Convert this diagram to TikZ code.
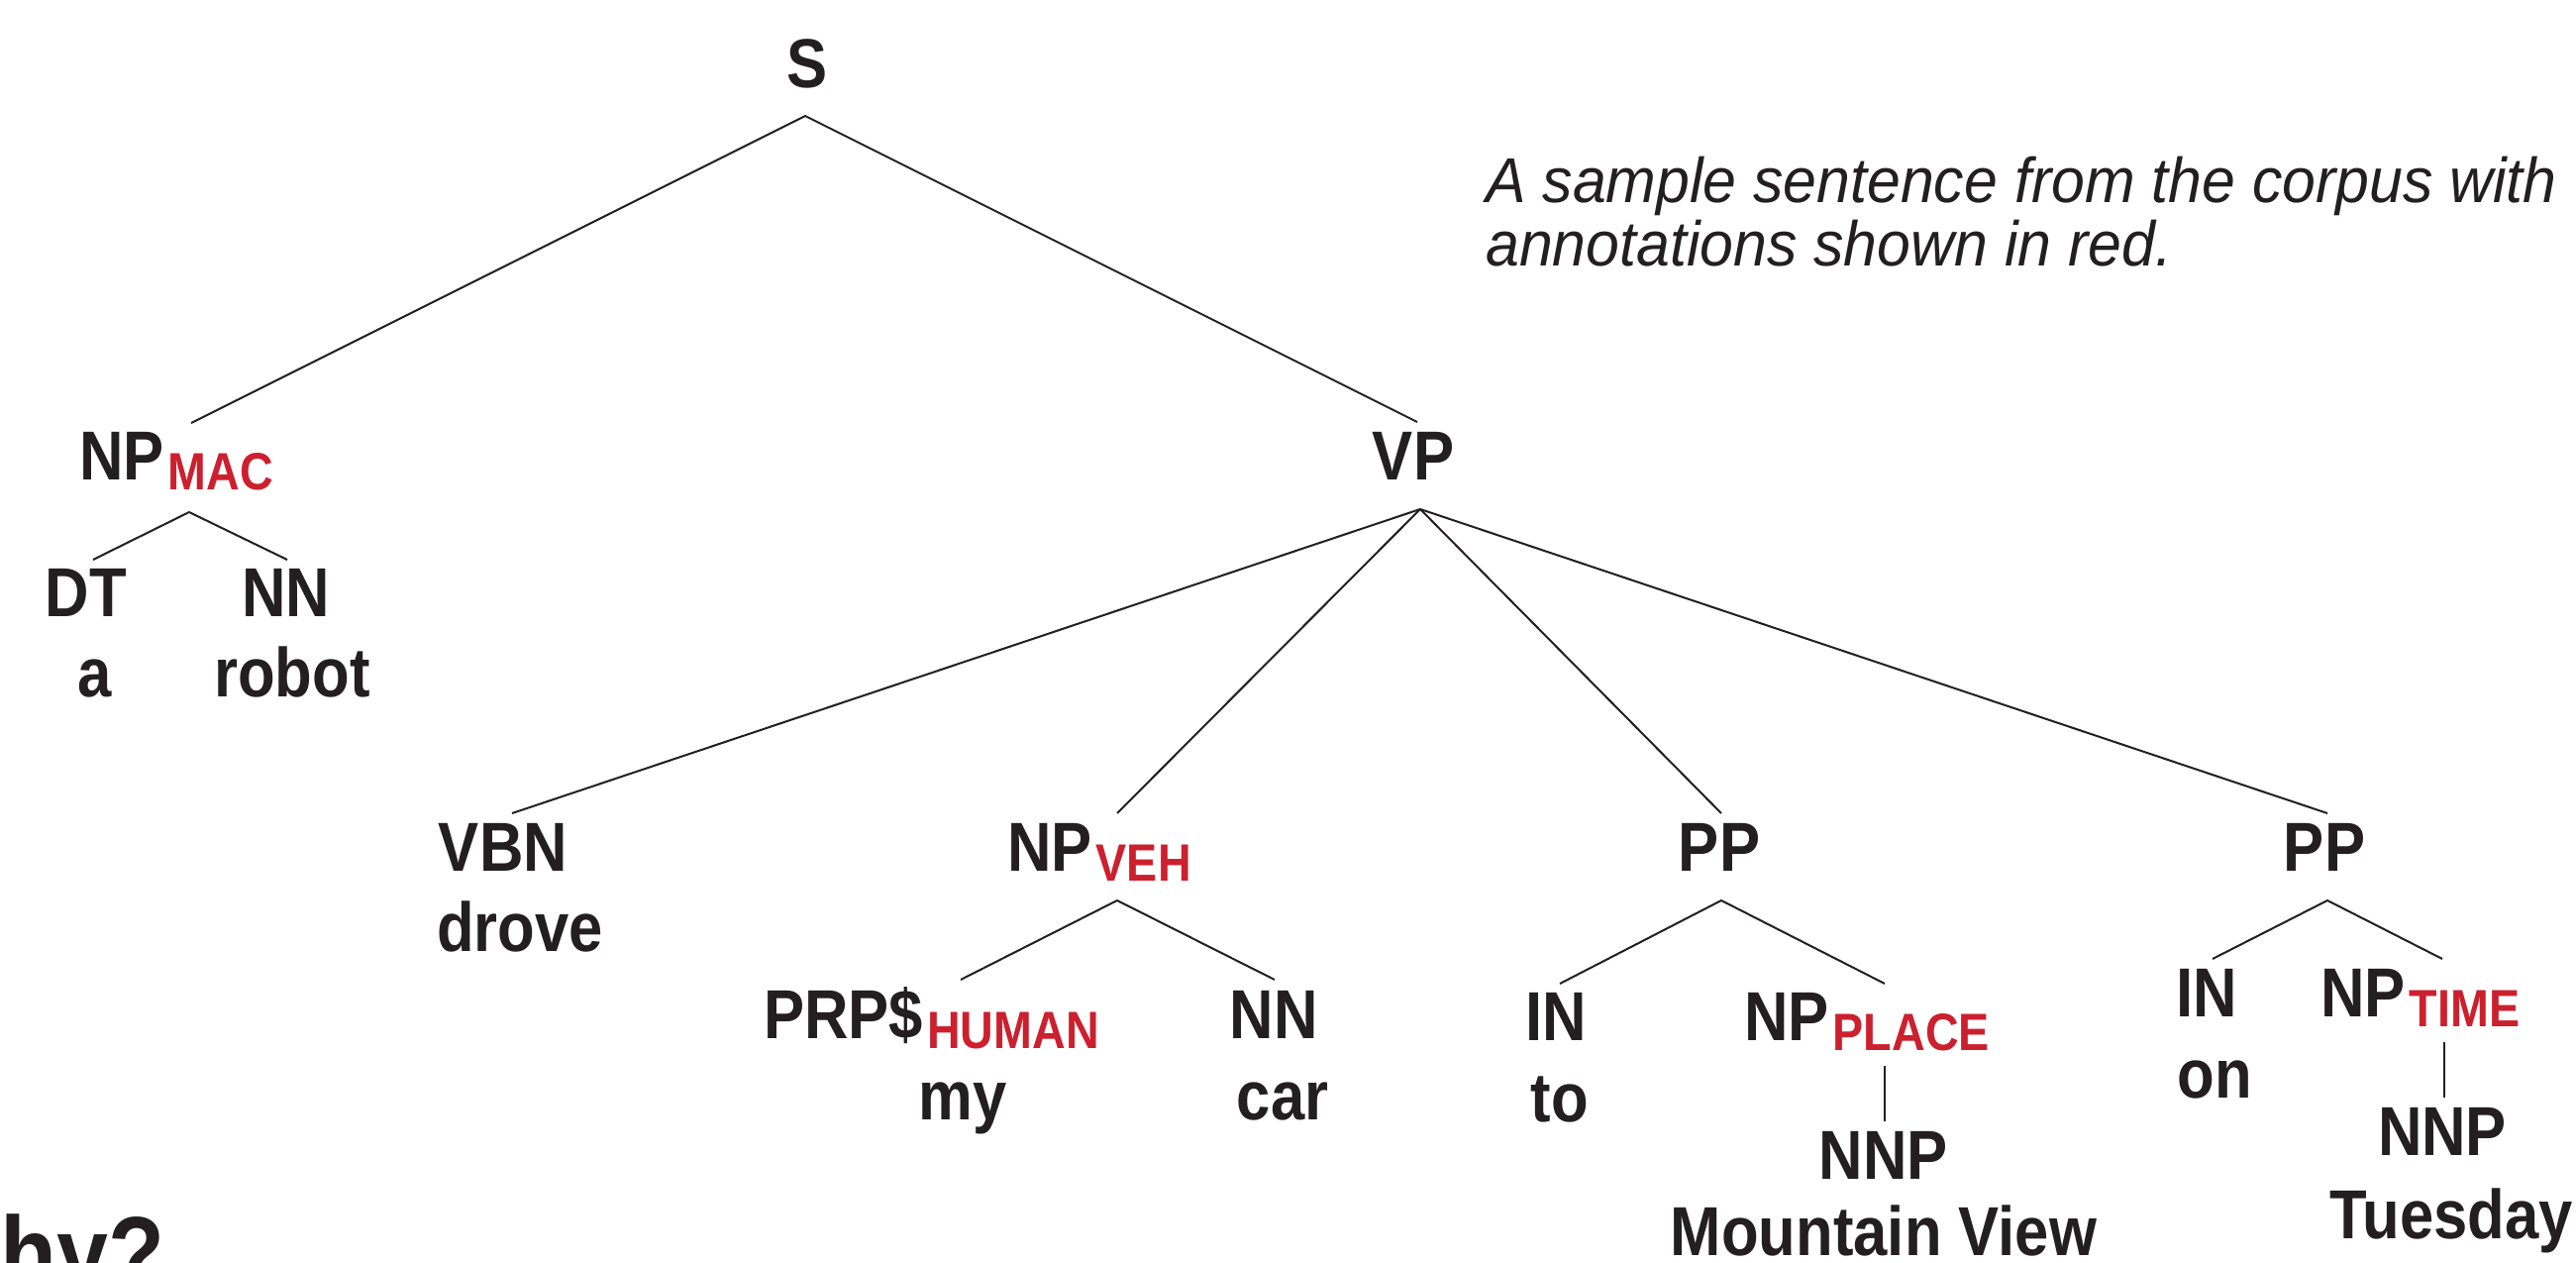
\documentclass[tikz,border=0pt]{standalone}
\usepackage{fontspec}
\setmainfont{Liberation Sans}
\newfontfamily\labfont[FakeStretch=0.88]{Liberation Sans}
\newfontfamily\capfont[FakeStretch=0.95]{Liberation Sans}
\definecolor{ink}{RGB}{35,31,32}
\definecolor{annot}{RGB}{204,32,46}
\newcommand{\annot}[1]{\kern4pt\raisebox{-10pt}{\fontsize{53}{60}\selectfont\color{annot}#1}}
\tikzset{
  lab/.style={inner sep=0pt, font={\labfont\bfseries\fontsize{70}{80}\selectfont}, text=ink, anchor=base},
  labw/.style={lab, anchor=base west},
  capt/.style={inner sep=0pt, font={\capfont\itshape\fontsize{64}{64}\selectfont}, text=ink, anchor=base west},
  edge/.style={draw=ink, line width=2pt}
}
\begin{document}
\begin{tikzpicture}[x=1pt,y=-1pt]
\useasboundingbox[fill=white] (0,0) rectangle (2601,1274);
% caption
\node[capt] (cap1) at (1500,204) {A sample sentence from the corpus with};
\node[capt] (cap2) at (1500,268) {annotations shown in red.};
% partial title
\begin{scope}
\clip (0,0) rectangle (2601,1274);
\node[inner sep=0pt, anchor=base east, font={\labfont\bfseries\fontsize{106}{110}\selectfont}, text=ink] (why) at (167,1302) {hy?};
\end{scope}
% nodes
\node[lab] (S) at (815,88) {S};
\node[labw] (npmac) at (80,484) {NP\annot{MAC}};
\node[lab] (dt) at (87,622) {DT};
\node[lab] (wa) at (96,703) {a};
\node[lab] (nn1) at (289,622) {NN};
\node[lab] (wrobot) at (295,703) {robot};
\node[lab] (VP) at (1427,484) {VP};
\node[lab] (vbn) at (508,879) {VBN};
\node[lab] (wdrove) at (525,960) {drove};
\node[labw] (npveh) at (1017,879) {NP\annot{VEH}};
\node[labw] (prp) at (771,1048) {PRP\$\annot{HUMAN}};
\node[lab] (wmy) at (972,1130) {my};
\node[lab] (nn2) at (1286,1048) {NN};
\node[lab] (wcar) at (1295,1130) {car};
\node[lab] (pp1) at (1736,879) {PP};
\node[lab] (in1) at (1571,1050) {IN};
\node[lab] (wto) at (1575,1132) {to};
\node[labw] (npplace) at (1761,1050) {NP\annot{PLACE}};
\node[lab] (nnp1) at (1902,1190) {NNP};
\node[lab] (wmv) at (1902,1267) {Mountain View};
\node[lab] (pp2) at (2347,879) {PP};
\node[lab] (in2) at (2228,1026) {IN};
\node[lab] (won) at (2236,1108) {on};
\node[labw] (nptime) at (2343,1026) {NP\annot{TIME}};
\node[lab] (nnp2) at (2466,1166) {NNP};
\node[lab] (wtue) at (2475,1250) {Tuesday};
% connector points
\coordinate (S-b) at (813,117);
\coordinate (npmac-t) at (193,427);
\coordinate (VP-t) at (1431,426);
\coordinate (npmac-b) at (191,517);
\coordinate (dt-t) at (94,565);
\coordinate (nn1-t) at (290,565);
\coordinate (VP-b) at (1434,514);
\coordinate (vbn-t) at (517,821);
\coordinate (npveh-t) at (1128,821);
\coordinate (pp1-t) at (1738,821);
\coordinate (pp2-t) at (2350,821);
\coordinate (npveh-b) at (1128,909);
\coordinate (prp-t) at (970,989);
\coordinate (nn2-t) at (1287,989);
\coordinate (pp1-b) at (1738,909);
\coordinate (in1-t) at (1575,993);
\coordinate (npplace-t) at (1903,993);
\coordinate (npplace-b) at (1903,1076);
\coordinate (nnp1-t) at (1903,1132);
\coordinate (pp2-b) at (2350,909);
\coordinate (in2-t) at (2234,968);
\coordinate (nptime-t) at (2466,968);
\coordinate (nptime-b) at (2468,1052);
\coordinate (nnp2-t) at (2468,1108);
% connectors
\draw[edge] (npmac-t) -- (S-b) -- (VP-t);
\draw[edge] (dt-t) -- (npmac-b) -- (nn1-t);
\draw[edge] (VP-b) -- (vbn-t);
\draw[edge] (VP-b) -- (npveh-t);
\draw[edge] (VP-b) -- (pp1-t);
\draw[edge] (VP-b) -- (pp2-t);
\draw[edge] (prp-t) -- (npveh-b) -- (nn2-t);
\draw[edge] (in1-t) -- (pp1-b) -- (npplace-t);
\draw[edge] (npplace-b) -- (nnp1-t);
\draw[edge] (in2-t) -- (pp2-b) -- (nptime-t);
\draw[edge] (nptime-b) -- (nnp2-t);
\end{tikzpicture}
\end{document}
